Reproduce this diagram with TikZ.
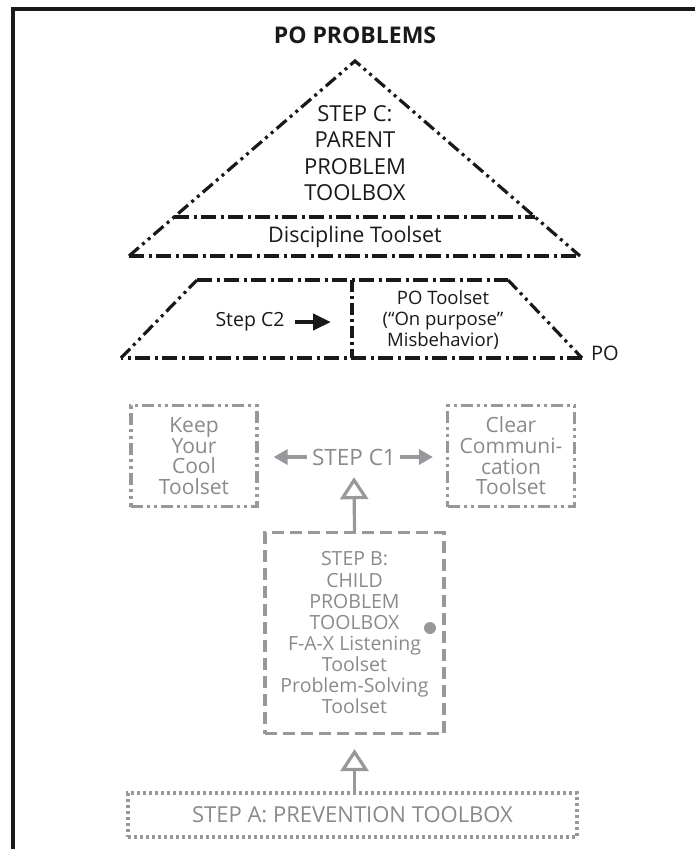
\documentclass[tikz,border=0pt]{standalone}
\usepackage{fontspec}
\setmainfont{Open Sans}
\usetikzlibrary{arrows.meta}
\definecolor{gr}{RGB}{152,152,156}
\definecolor{grtext}{RGB}{138,138,142}
\definecolor{ink}{RGB}{25,25,25}
\begin{document}
\begin{tikzpicture}[x=1pt,y=-1pt,
  blk/.style={line width=3.2pt,draw=ink},
  ddot/.style={dash pattern=on 13pt off 4.5pt on 3pt off 4.5pt on 3pt off 4.5pt},
  dd/.style={dash pattern=on 15pt off 4.5pt on 3pt off 4.5pt},
  gline/.style={line width=3.2pt,draw=gr},
  txt/.style={inner sep=0pt,align=center,text=ink},
  gtxt/.style={inner sep=0pt,align=center,text=grtext},
  gbox/.style={gline,inner sep=0pt,align=center,text=grtext},
  garrow/.style={draw=gr,line width=4.5pt,-{Triangle[length=14pt,width=15pt]}},
  uparrow/.style={draw=gr,line width=3.2pt,-{Triangle[open,length=22pt,width=28pt]}}
]
\useasboundingbox (0,0) rectangle (695,849);
% frame
\draw[line width=3.5pt,draw=ink] (13,849) -- (13,9) -- (695,9);

% title
\node[txt,font=\fontsize{23}{26}\selectfont\bfseries] (title) at (355,35) {PO PROBLEMS};

% triangle
\coordinate (apex) at (355,61);
\coordinate (tbl) at (129,256);
\coordinate (tbr) at (580,256);
\coordinate (til) at (174,217);
\coordinate (tir) at (535,217);
\draw[blk,ddot] (tbl) -- (apex) -- (tbr);
\draw[blk,dd] (tbl) -- (tbr);
\draw[blk,dd] (til) -- (tir);
\node[txt,font=\fontsize{22}{26.5}\selectfont] (stepc) at (355,153) {STEP C:\\PARENT\\PROBLEM\\TOOLBOX};
\node[txt,font=\fontsize{21.5}{24}\selectfont] (disc) at (355,237) {Discipline Toolset};

% trapezoid
\coordinate (ptl) at (197,280);
\coordinate (ptr) at (508,280);
\coordinate (pbr) at (582,358);
\coordinate (pbl) at (121,358);
\coordinate (pdt) at (352,280);
\coordinate (pdb) at (352,358);
\draw[blk,dd] (ptl) -- (ptr);
\draw[blk,ddot] (ptr) -- (pbr);
\draw[blk,dd] (pbr) -- (pbl);
\draw[blk,ddot] (pbl) -- (ptl);
\draw[blk,dash pattern=on 12pt off 4pt on 3pt off 4pt] (pdt) -- (pdb);
\node[txt,font=\fontsize{19.5}{22}\selectfont] (c2) at (250,322) {Step C2};
\coordinate (c2tip) at (331,322);
\draw[draw=ink,line width=4.5pt,-{Triangle[length=18pt,width=16pt]}] (c2.east) ++(10,0) -- (c2tip);
\node[txt,font=\fontsize{18.5}{21}\selectfont] (potool) at (443,320) {PO Toolset\\(“On purpose”\\Misbehavior)};
\node[txt,anchor=west,font=\fontsize{20}{22}\selectfont] (po) at (591,353) {PO};

% step C1 row
\node[gbox,dash pattern=on 12pt off 4pt on 3pt off 4pt on 3pt off 4pt,
  minimum width=126pt,minimum height=101pt,font=\fontsize{21}{20.7}\selectfont] (keep) at (194,456) {Keep\\Your\\Cool\\Toolset};
\node[gbox,dash pattern=on 12pt off 4pt on 3pt off 4pt on 3pt off 4pt,
  minimum width=127pt,minimum height=101pt,font=\fontsize{21}{20.7}\selectfont] (clear) at (511,456) {Clear\\Communi-\\cation\\Toolset};
\node[gtxt,minimum height=40pt,font=\fontsize{22.5}{24}\selectfont] (c1) at (354,457) {STEP C1};
\draw[garrow] ([xshift=-5pt]c1.west) -- ([xshift=15pt]c1.west -| keep.east);
\draw[garrow] ([xshift=4pt]c1.east) -- ([xshift=-13pt]c1.east -| clear.west);

% step B
\node[gbox,dash pattern=on 12pt off 6pt,minimum width=179pt,minimum height=201pt,
  font=\fontsize{19.5}{21.15}\selectfont] (stepb) at (354.5,633) {STEP B:\\CHILD\\PROBLEM\\TOOLBOX\\F-A-X Listening\\Toolset\\Problem-Solving\\Toolset};
\node[circle,fill=gr,inner sep=0pt,minimum size=12pt] (dot) at (430,628) {};
\draw[uparrow] (stepb.north) -- (c1.south);

% step A
\node[gbox,dash pattern=on 3pt off 3pt,minimum width=449pt,minimum height=44pt,
  font=\fontsize{22}{24}\selectfont] (stepa) at (352.5,815) {STEP A: PREVENTION TOOLBOX};
\draw[uparrow,shorten >=14pt] (stepa.north -| stepb.south) -- (stepb.south);
\end{tikzpicture}
\end{document}
